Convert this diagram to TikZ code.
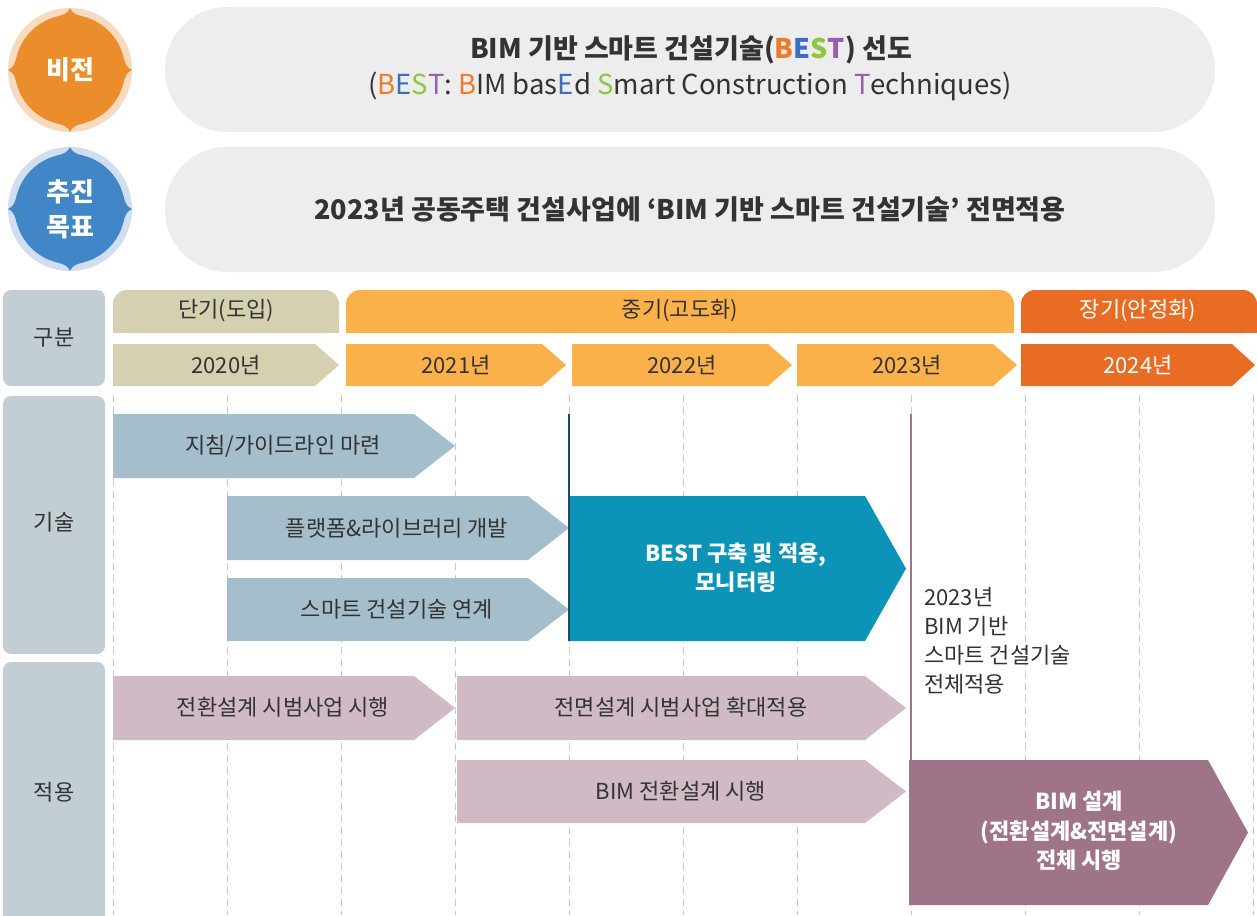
\documentclass[tikz,border=0pt]{standalone}
\usepackage{fontspec}
\setmainfont{Noto Sans CJK KR}
\definecolor{vor}{HTML}{EA8D2A}
\definecolor{vorl}{HTML}{F8DBBE}
\definecolor{vbl}{HTML}{4186C6}
\definecolor{vbll}{HTML}{D0DEEF}
\definecolor{pill}{HTML}{EDEDED}
\definecolor{khaki}{HTML}{D4D0B0}
\definecolor{midor}{HTML}{FBB149}
\definecolor{longor}{HTML}{E96C25}
\definecolor{colg}{HTML}{C3CDD4}
\definecolor{techb}{HTML}{A4BFCB}
\definecolor{bestb}{HTML}{0C93B8}
\definecolor{navy}{HTML}{1B4B66}
\definecolor{appp}{HTML}{CFBAC5}
\definecolor{mauve}{HTML}{A07488}
\definecolor{dashc}{HTML}{C8C8C8}
\definecolor{txtc}{HTML}{333333}
\definecolor{cB}{HTML}{F07A28}
\definecolor{cE}{HTML}{3D6EC0}
\definecolor{cS}{HTML}{8DC63F}
\definecolor{cT}{HTML}{9A5DB0}
\newcommand\myarr[6]{\fill[#1] (#2,#5) -- (#3,#5) -- (#4,{(#5+#6)/2}) -- (#3,#6) -- (#2,#6) -- cycle;}
\newcommand\bestc{\textcolor{cB}{B}\textcolor{cE}{E}\textcolor{cS}{S}\textcolor{cT}{T}}
\begin{document}
\begin{tikzpicture}[x=1pt,y=-1pt,
  txt/.style={text=txtc, font=\fontsize{22}{29}\selectfont, inner sep=0pt, align=center},
  wtxt/.style={text=white, font=\fontsize{22}{29.5}\selectfont\bfseries, inner sep=0pt, align=center},
  ctxt/.style={text=white, font=\fontsize{26}{35}\selectfont\bfseries, inner sep=0pt, align=center},
  dline/.style={dashc, dash pattern=on 7pt off 5pt, line width=0.8pt}]
\useasboundingbox (0,0) rectangle (1257,915);
% circles
\foreach \cy/\ca/\cb in {0/vorl/vor,139/vbll/vbl}{
 \begin{scope}[shift={(0,\cy)}]
  \fill[\ca] (70,70) circle[radius=62];
  \fill[\cb] (70,70) circle[radius=55];
  \foreach \a in {0,90,180,270}{
   \fill[\cb, rotate around={\a:(70,70)}] (56.7,16.6) .. controls (64,15) and (68,13) .. (70,8) .. controls (72,13) and (76,15) .. (83.3,16.6) -- (70,30) -- cycle;
  }
 \end{scope}
}
\node[ctxt] (c1) at (70,70) {비전};
\node[ctxt] (c2) at (70,209) {추진\\목표};
% pills
\fill[pill, rounded corners=62] (165,7) rectangle (1215,132);
\fill[pill, rounded corners=62] (165,147) rectangle (1215,272);
\node[text=txtc, font=\fontsize{27}{30}\selectfont\bfseries, inner sep=0pt] (v1) at (691,50) {BIM 기반 스마트 건설기술(\bestc) 선도};
\node[text=txtc, font=\fontsize{27.5}{30}\selectfont, inner sep=0pt] (v2) at (690,86) {(\bestc: \textcolor{cB}{B}IM bas\textcolor{cE}{E}d \textcolor{cS}{S}mart Construction \textcolor{cT}{T}echniques)};
\node[text=txtc, font=\fontsize{27}{30}\selectfont\bfseries, inner sep=0pt] (g1) at (690,209) {2023년 공동주택 건설사업에 ‘BIM 기반 스마트 건설기술’ 전면적용};
% left column
\fill[colg, rounded corners=8] (3,290) rectangle (105,386);
\fill[colg, rounded corners=8] (3,396) rectangle (105,654);
\fill[colg, rounded corners=8] (3,662) rectangle (105,935);
\node[txt] (k1) at (54,338) {구분};
\node[txt] (k2) at (54,522) {기술};
\node[txt] (k3) at (54,792) {적용};
% period bars
\foreach \xa/\xb/\col in {113/339/khaki,346/1014/midor,1021/1257/longor}{
 \fill[\col, rounded corners=14] (\xa,290) rectangle (\xb,333);
 \fill[\col] (\xa,312) rectangle (\xb,333);
}
\node[txt] (p1) at (226,311) {단기(도입)};
\node[txt] (p2) at (680,311) {중기(고도화)};
\node[txt, text=white] (p3) at (1138,311) {장기(안정화)};
% years
\myarr{khaki}{113}{315}{339}{344}{386}
\myarr{midor}{346}{542}{566}{344}{386}
\myarr{midor}{572}{768}{792}{344}{386}
\myarr{midor}{797}{993}{1017}{344}{386}
\myarr{longor}{1021}{1232}{1255}{344}{386}
\node[txt] (y0) at (226,365) {2020년};
\node[txt] (y1) at (456,365) {2021년};
\node[txt] (y2) at (682,365) {2022년};
\node[txt] (y3) at (907,365) {2023년};
\node[txt, text=white] (y4) at (1138,365) {2024년};
% dashed grid
\foreach \x in {113,227,341,455,569,683,797,911,1025,1139,1253}{
 \draw[dline] (\x,395) -- (\x,915);
}
% tech arrows
\myarr{techb}{113}{414}{455}{414}{478}
\myarr{techb}{227}{528}{569}{496}{560}
\myarr{techb}{227}{528}{569}{578}{641}
\myarr{bestb}{569}{865}{906}{496}{641}
\node[txt] (a1) at (283,446) {지침/가이드라인 마련};
\node[txt] (a2) at (397,528) {플랫폼\&라이브러리 개발};
\node[txt] (a3) at (397,609) {스마트 건설기술 연계};
\node[wtxt] (a4) at (736,568) {BEST 구축 및 적용,\\모니터링};
% apply arrows
\myarr{appp}{113}{414}{455}{676}{740}
\myarr{appp}{457}{865}{906}{676}{740}
\myarr{appp}{457}{865}{906}{760}{823}
\draw[mauve, line width=2.5pt] (911,414) -- (911,762);
\myarr{mauve}{909}{1208}{1248}{760}{905}
\draw[navy, line width=2.5pt] (569,414) -- (569,641);
\node[txt] (b1) at (283,707) {전환설계 시범사업 시행};
\node[txt] (b2) at (681,707) {전면설계 시범사업 확대적용};
\node[txt] (b3) at (681,791) {BIM 전환설계 시행};
\node[wtxt] (b4) at (1079,831) {BIM 설계\\(전환설계\&전면설계)\\전체 시행};
\node[txt, align=left, anchor=north west] (n1) at (924,587) {2023년\\BIM 기반\\스마트 건설기술\\전체적용};
\end{tikzpicture}
\end{document}
